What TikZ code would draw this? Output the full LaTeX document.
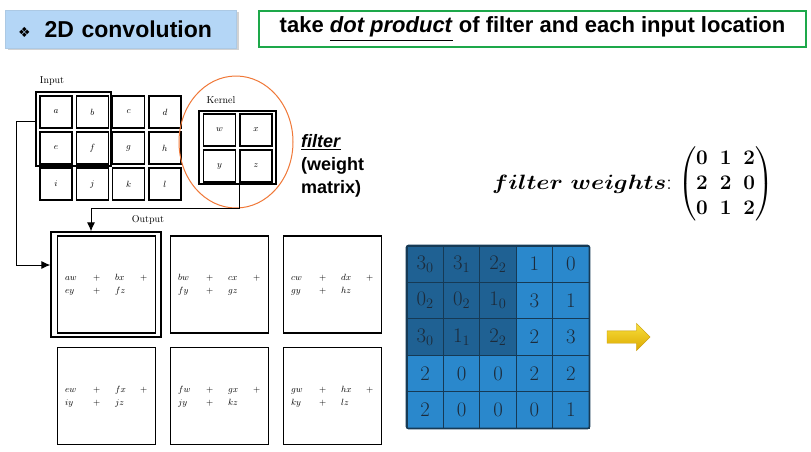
\documentclass[tikz,border=0pt]{standalone}
\usepackage{fontspec}
\usepackage{graphicx}
\usepackage{amsmath,bm}
\setsansfont{Liberation Sans}
\newfontfamily\symfont{DejaVu Sans}
\usetikzlibrary{arrows.meta,shapes.arrows,shadows}

\definecolor{titleblue}{HTML}{B4D6F6}
\definecolor{boxgreen}{HTML}{1DA84A}
\definecolor{ringorange}{HTML}{F07838}
\definecolor{convlight}{HTML}{2A88CC}
\definecolor{convdark}{HTML}{1F6193}
\definecolor{convline}{HTML}{163A55}
\definecolor{convtext}{HTML}{1C2B3B}
\definecolor{arrowtop}{HTML}{F8E03C}
\definecolor{arrowbot}{HTML}{DCA800}

\begin{document}
\begin{tikzpicture}[x=1pt,y=-1pt,
	cell/.style={draw, line width=1.4pt, minimum width=32pt, minimum height=32pt, inner sep=0pt, font=\fontsize{9}{11}\selectfont},
	outbox/.style={draw, line width=1.2pt, minimum width=98pt, minimum height=97pt, inner sep=0pt},
	gcell/.style={draw=convline, line width=1pt, minimum width=36.4pt, minimum height=36.4pt, inner sep=0pt, text=convtext, font=\fontsize{20}{24}\selectfont},
	lbl/.style={font=\fontsize{10}{12}\selectfont, inner sep=0pt}]
	\useasboundingbox (0,0) rectangle (811,451);
	\fill[white] (0,0) rectangle (811,451);

	% heading
	\node[fill=titleblue, draw=titleblue!85!gray, minimum width=231pt, minimum height=38pt, text width=205pt, inner xsep=13pt, align=left,
		drop shadow={shadow xshift=3pt, shadow yshift=-2pt, opacity=0.35},
		font=\sffamily\bfseries\fontsize{23}{26}\selectfont] (title) at (120.5,29) {{\symfont\fontsize{14}{16}\selectfont ❖}\hspace{14pt}2D convolution};
	\node[draw=boxgreen, line width=1.5pt, minimum width=547pt, minimum height=36pt, font=\sffamily\bfseries\fontsize{22}{25}\selectfont] (task) at (532.5,29)
		{take \underline{\textit{dot product}} of filter and each input location};

	% input
	\node[lbl] (inlbl) at (52,81) {Input};
	\foreach \l [count=\i from 0] in {a,b,c,d,e,f,g,h,i,j,k,l}{
		\pgfmathtruncatemacro\cc{mod(\i,4)}
		\pgfmathtruncatemacro\rr{\i/4}
		\node[cell] (in-\l) at ({56+36.3*\cc},{112+36*\rr}) {$\l$};
	}
	\node[draw, line width=1.3pt, minimum width=75pt, minimum height=74pt] (inwin) at (73.5,129) {};

	% kernel
	\node[lbl] (klbl) at (221,100) {Kernel};
	\node[cell] (k-w) at (219.5,130) {$w$};
	\node[cell] (k-x) at (256,130) {$x$};
	\node[cell] (k-y) at (219.5,166) {$y$};
	\node[cell] (k-z) at (256,166) {$z$};
	\node[draw, line width=1.3pt, minimum width=77pt, minimum height=73pt] (kbox) at (237.5,147.5) {};
	\draw[ringorange, line width=1pt] (236,142) ellipse [x radius=57, y radius=66];

	\node[anchor=north west, align=left, inner sep=0pt, font=\sffamily\bfseries\fontsize{18}{23}\selectfont] (flt) at (301,134)
		{\underline{\textit{filter}}\\(weight\\matrix)};

	% output
	\node[lbl] (outlbl) at (148,220) {Output};
	\foreach \p/\q/\s/\t [count=\i from 0] in {aw/bx/ey/fz, bw/cx/fy/gz, cw/dx/gy/hz, ew/fx/iy/jz, fw/gx/jy/kz, gw/hx/ky/lz}{
		\pgfmathtruncatemacro\cc{mod(\i,3)}
		\pgfmathtruncatemacro\rr{\i/3}
		\node[outbox] (out-\i) at ({106.5+113*\cc},{284.5+111.5*\rr}) {};
		\node[anchor=west, inner sep=0pt, font=\fontsize{9}{13}\selectfont] (sum-\i) at ([xshift=8pt]out-\i.west)
			{\setlength\tabcolsep{0pt}\begin{tabular}{p{28pt}p{22pt}p{25pt}l}$\p$&$+$&$\q$&$+$\\$\s$&$+$&$\t$&\end{tabular}};
	}
	\node[draw, line width=1.2pt, minimum width=110pt, minimum height=105pt] (frame) at (106,284.5) {};
	\coordinate (kdrop) at (91,208);

	\draw[line width=1pt, -{Latex[length=9pt,width=8pt]}] ([yshift=8pt]inwin.west) -- ++(-19,0) |- ([yshift=19.5pt]frame.west);
	\draw[line width=1pt, -{Latex[length=9pt,width=8pt]}] (kbox.south -| k-z.west) |- (kdrop) -- (kdrop |- frame.north);

	% weights
	\node[anchor=west, inner sep=0pt, font=\fontsize{22}{25}\selectfont] (wts) at (492,184)
		{\scalebox{1.15}[1]{$\bm{filter\ weights}$}:\;{\boldmath$\setlength\arraycolsep{6pt}\begin{pmatrix}0&1&2\\2&2&0\\0&1&2\end{pmatrix}$}};

	% image grid
	\foreach \row [count=\r from 0] in {{3_0,3_1,2_2,1,0},{0_2,0_2,1_0,3,1},{3_0,1_1,2_2,2,3},{2,0,0,2,2},{2,0,0,0,1}}{
		\foreach \v [count=\c from 0] in \row{
			\pgfmathtruncatemacro\dk{(\r<3)&&(\c<3)}
			\ifnum\dk=1 \def\gc{convdark}\else\def\gc{convlight}\fi
			\node[gcell, fill=\gc] (g-\r-\c) at ({425.2+36.4*\c},{264.2+36.4*\r}) {$\v$};
		}
	}
	\draw[convline, line width=1.6pt, rounded corners=2pt] (g-0-0.north west) rectangle (g-4-4.south east);

	\node[single arrow, draw=arrowbot!90!black, line width=0.3pt, top color=arrowtop, bottom color=arrowbot, minimum height=43pt, minimum width=27pt,
		inner sep=6pt, single arrow head extend=7.5pt] (yarr) at (625.5,337) {};
\end{tikzpicture}
\end{document}
